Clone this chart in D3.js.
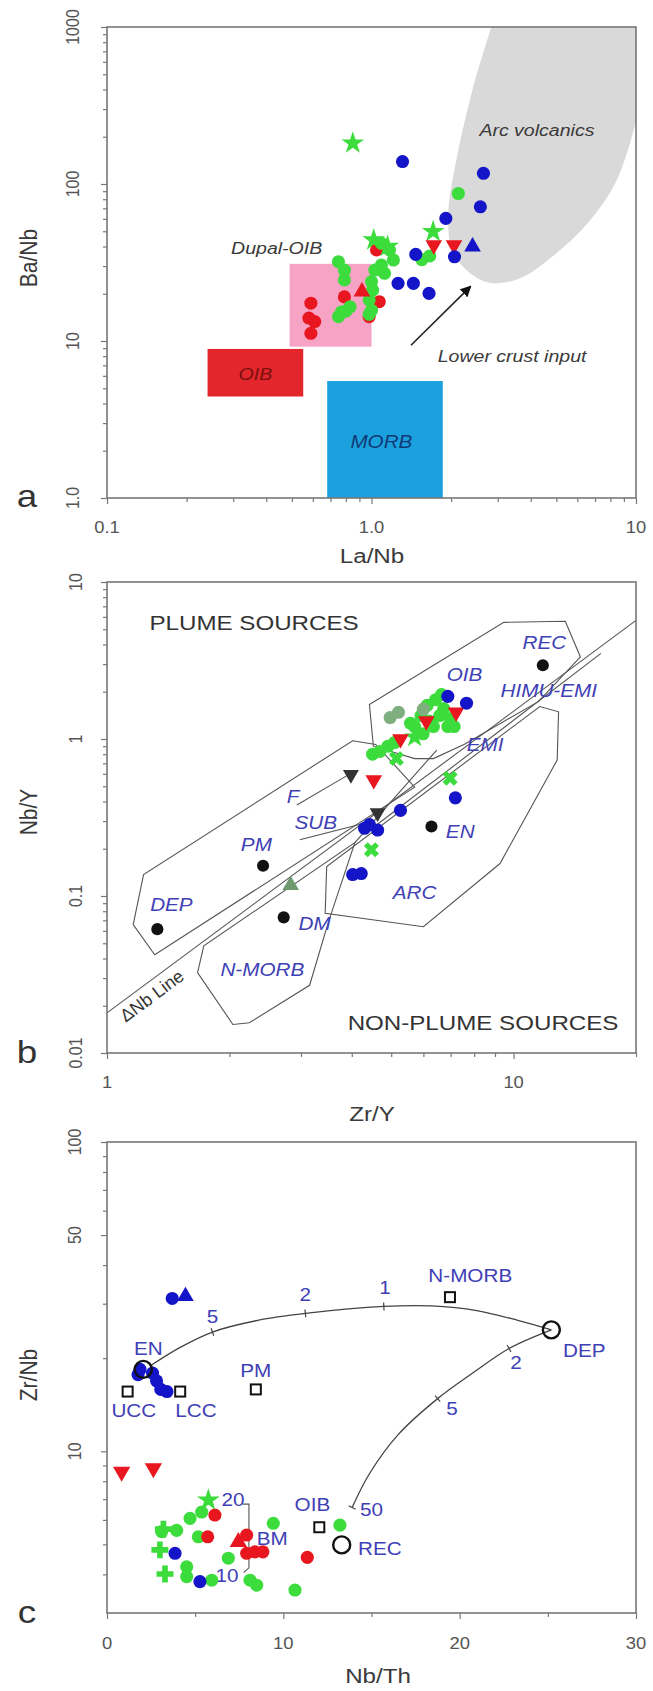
<!DOCTYPE html>
<html><head><meta charset="utf-8">
<script src="https://cdn.jsdelivr.net/npm/d3@7"></script>
<style>body{margin:0;background:#fff}svg{display:block}text{font-family:Arial,"Liberation Sans",Helvetica,sans-serif}</style>
</head><body>
<script>
// ---------------- DATA ----------------
// Panel a : La/Nb (x) vs Ba/Nb (y)
const aArcField = [[2.84,1000],[2.41,399],[2.09,140],[1.95,63.7],[2.02,37.7],[2.33,27.5],[2.79,23.5],[3.59,24.8],[4.78,34],[6.61,57],[8.51,108],[10,250]];
const aDupalBox = [0.49,1.0,9.2,31];
const aOIBBox = [0.24,0.552,4.43,8.9];
const aMORBBox = [0.68,1.86,1,5.56];
const aArrow = [[1.41,9.4],[2.37,22.3]];
const aBlueCircles = [[1.31,139],[2.65,117],[2.58,71.6],[1.91,60.4],[1.47,35.6],[2.06,34.4],[1.26,23.3],[1.44,23.3],[1.65,20.1]];
const aBlueTriUp = [[2.41,39.9]];
const aRedCircles = [[0.59,17.4],[0.58,14],[0.61,13.3],[0.59,11.2],[0.79,19.1],[1.045,38],[1.07,17.8],[0.98,14.3]];
const aRedTriUp = [[0.92,20.6]];
const aRedTriDown = [[2.05,40.8],[1.72,40.8]];
const aGreenCircles = [[2.13,87],[1.66,34.8],[0.75,32],[0.79,28.3],[0.79,24.5],[0.83,16.5],[0.75,14.3],[0.77,15.3],[1.09,41.9],[1.17,38],[1.21,32.8],[1.09,30.5],[1.03,28.3],[1.12,27],[1.0,23.9],[1.01,21.1],[0.98,18.3],[1.0,15.7],[0.98,14.8],[0.8,15.5],[1.55,33]];
const aGreenStars = [[0.85,182],[1.71,49.7],[1.02,44],[1.15,40]];
const aTexts = [["Arc volcanics",4.22,222],["Dupal-OIB",0.438,39.3],["Lower crust input",3.4,8.0]];

// Panel b : Zr/Y (x) vs Nb/Y (y)
const bOIBField = [[4.42,1.66],[9.46,5.53],[13.4,5.62],[14.6,3.33],[11.5,1.73],[7.57,0.925],[6.35,0.75],[5.71,0.75],[4.52,0.90]];
const bLongField = [[1.16,0.0658],[1.23,0.137],[4.02,0.975],[4.58,0.924],[5.71,0.493],[1.31,0.0422]];
const bArcField = [[3.47,0.154],[3.44,0.0776],[6.0,0.0637],[9.26,0.161],[12.8,0.735],[12.9,1.49],[11.6,1.61]];
const bMorbField = [[1.73,0.0481],[1.67,0.0325],[2.04,0.0152],[2.24,0.0156],[3.15,0.027],[3.50,0.0676],[4.07,0.219]];
const bDeltaNbLine = [[1,0.018],[20,5.7]];
const bOtherLines = [[[6.47,0.85],[4.07,0.219]],[[4.32,0.25],[16.4,3.51]]];
const bFArrow = [[2.93,0.38],[3.93,0.593]];
const bSubArrow = [[2.98,0.228],[4.32,0.292]];
const bBlackCircles = [[1.33,0.0615],[2.42,0.156],[2.72,0.0731],[6.28,0.277],[11.8,2.95]];
const bBlueCircles = [[6.89,1.87],[7.66,1.69],[7.19,0.422],[5.27,0.351],[4.42,0.285],[4.63,0.263],[4.02,0.137],[4.22,0.139],[4.3,0.27]];
const bGreenX = [[6.98,0.562],[4.47,0.197],[5.15,0.75]];
const bGreenCircles = [[4.69,0.833],[4.91,0.90],[4.5,0.80],[5.71,1.20],[5.92,1.41],[6.13,1.64],[6.43,1.78],[6.58,1.41],[6.35,1.20],[6.89,1.20],[7.14,1.20],[6.73,1.56],[5.99,1.08],[5.58,1.26],[6.65,1.92],[5.1,0.95],[6.2,1.3],[7.0,1.35]];
const bGreyGreenCircles = [[4.97,1.37],[5.21,1.48],[6.0,1.55]];
const bRedTriDown = [[4.53,0.548],[5.27,1.0],[7.22,1.48],[6.1,1.3]];
const bDarkTriDown = [[3.98,0.593],[4.63,0.339]];
const bGreyTri = [[2.83,0.117]];
const bGreenStars = [[5.71,1.03]];
const bTexts = [["DEP",1.44,0.0877],["PM",2.33,0.214],["DM",3.24,0.0668],["EN",7.39,0.256],["REC",11.9,4.11],["OIB",7.57,2.57],["HIMU-EMI",12.2,2.03],["EMI",8.51,0.925],["ARC",5.71,0.105],["N-MORB",2.41,0.0342],["F",2.87,0.433],["SUB",3.26,0.292]];

// Panel c : Nb/Th (x) vs Zr/Nb (y)
const cUpperCurve = [[2.46,18.9],[4.1,21.6],[5.98,24.3],[8.55,26.5],[11.25,27.9],[15.7,29.4],[18.4,29.5],[20.97,28.5],[23.3,26.5],[25.2,24.7]];
const cLowerCurve = [[25.2,24.7],[22.8,21.5],[20.74,17.9],[18.75,14.8],[16.5,11.3],[14.9,8.49],[13.9,6.58]];
const cCurveTicks = [[5.98,24.3],[11.25,27.9],[15.7,29.4],[22.8,21.5],[18.75,14.8],[13.9,6.58]];
const cTickTexts = [["5",5.98,27.2],["2",11.25,32.1],["1",15.77,33.8],["2",23.2,19.4],["5",19.57,13.8],["50",15.0,6.49],["20",7.15,6.97],["10",6.8,3.98]];
const cBracket = [[7.7,6.75],[8.05,6.75],[8.05,4.2],[7.75,4.05]];
const cSquares = [[19.45,31.5],[8.44,15.85],[1.17,15.6],[4.15,15.6],[12.04,5.68]];
const cOpenCircles = [[25.2,24.7],[2.06,18.4],[13.31,4.98]];
const cBlueCircles = [[3.70,31.2],[1.87,18.4],[2.58,17.9],[2.81,16.9],[3.05,15.85],[3.40,15.6],[1.76,17.7],[3.86,4.68],[5.27,3.79]];
const cBlueTriUp = [[4.45,31.7]];
const cRedTriDown = [[0.83,8.59],[2.63,8.81]];
const cRedCircles = [[6.12,6.22],[5.71,5.29],[7.92,5.36],[8.39,4.73],[7.92,4.68],[8.84,4.73],[11.36,4.54]];
const cRedTriUp = [[7.45,5.09]];
const cGreenCircles = [[5.37,6.36],[4.71,6.07],[3.10,5.50],[3.95,5.55],[5.18,5.29],[4.52,4.23],[6.88,4.51],[4.52,3.93],[5.94,3.83],[9.43,5.85],[8.11,3.83],[8.49,3.69],[10.66,3.56],[13.21,5.77]];
const cGreenStars = [[5.75,6.95]];
const cGreenPlus = [[3.0,4.80],[3.29,4.01],[3.2,5.6]];
const cTexts = [["N-MORB",20.6,37.0],["DEP",27.07,21.1],["EN",2.34,21.5],["PM",8.44,18.2],["UCC",1.52,13.5],["LCC",5.04,13.5],["OIB",11.65,6.74],["REC",15.47,4.84],["BM",9.37,5.22]];

// ---------------- DRAWING ----------------
const W=653,H=1691,SX=1.15;
const RED="#e8161e",GREEN="#3cdc3c",BLUE="#1414c8",LBL="#4040b6";
const PS=135;
const svg=d3.select("body").append("svg").attr("width",W).attr("height",H);

function label(g,x,y,str,o={}){
  const t=g.append("text")
    .attr("transform",`translate(${x},${y}) scale(${o.sx??SX},1)`+(o.rot!=null?` rotate(${o.rot})`:""))
    .attr("text-anchor",o.anchor||"middle").attr("dominant-baseline","central")
    .attr("font-size",o.size||18).attr("fill",o.fill||"#333").text(str);
  if(o.italic) t.attr("font-style","italic");
  if(o.weight) t.attr("font-weight",o.weight);
  return t;
}
const symT={circle:d3.symbolCircle,up:d3.symbolTriangle,down:d3.symbolTriangle,star:d3.symbolStar,x:d3.symbolCross,plus:d3.symbolCross,square:d3.symbolSquare};
function pts(g,x,y,data,type,fill,size){
  const s=d3.symbol().type(symT[type]).size(size);
  g.selectAll(null).data(data).join("path").attr("d",s)
   .attr("transform",d=>`translate(${x(d[0])},${y(d[1])})`+(type==="down"?" rotate(180)":type==="x"?" rotate(45)":""))
   .attr("fill",fill);
}
function frameAxes(g,x,y,xmaj,xmin,ymaj,ymin){
  const [y0]=y.range(), x0=x.range()[0];
  const ax=(gen,vals,size,tr)=>{const a=g.append("g").attr("transform",tr).call(gen.tickValues(vals).tickSize(size).tickFormat(""));
    a.select(".domain").remove(); a.selectAll("line").attr("stroke","#777").attr("stroke-width",1.2);};
  ax(d3.axisBottom(x),xmaj,6,`translate(0,${y0})`);
  ax(d3.axisBottom(x),xmin,4,`translate(0,${y0})`);
  ax(d3.axisLeft(y),ymaj,6,`translate(${x0},0)`);
  ax(d3.axisLeft(y),ymin,4,`translate(${x0},0)`);
}
function frame(g,x,y){
  const [xa,xb]=x.range(),[ya,yb]=y.range();
  g.append("rect").attr("x",xa).attr("y",yb).attr("width",xb-xa).attr("height",ya-yb)
   .attr("fill","none").attr("stroke","#777").attr("stroke-width",1.6);
}
const logMinor=(decs)=>decs.flatMap(d=>[2,3,4,5,6,7,8,9].map(k=>k*d));

// ===== Panel a =====
{
const g=svg.append("g");
const x=d3.scaleLog().domain([0.1,10]).range([107,636]);
const y=d3.scaleLog().domain([1,1000]).range([498,27]);
const ln=d3.line().x(d=>x(d[0])).y(d=>y(d[1])).curve(d3.curveCatmullRom);
g.append("path").attr("d",ln(aArcField)+`L${x(10)},${y(1000)}Z`).attr("fill","#d9d9d9");
const box=(b,fill)=>g.append("rect").attr("x",x(b[0])).attr("y",y(b[3])).attr("width",x(b[1])-x(b[0])).attr("height",y(b[2])-y(b[3])).attr("fill",fill);
box(aDupalBox,"#f6a3c6");
box(aOIBBox,"#e2262b");
box(aMORBBox,"#1ba2de");
label(g,x(Math.sqrt(aOIBBox[0]*aOIBBox[1])),y(6.17),"OIB",{italic:1,fill:"#7a1010",size:17});
label(g,x(1.09),y(2.28),"MORB",{italic:1,fill:"#123a78",size:18});
aTexts.forEach(t=>label(g,x(t[1]),y(t[2]),t[0],{italic:1,fill:"#3a3a3a",size:17}));
svg.append("defs").append("marker").attr("id","ah").attr("viewBox","0 0 10 10").attr("refX",9).attr("refY",5)
  .attr("markerWidth",7).attr("markerHeight",7).attr("orient","auto")
  .append("path").attr("d","M0,0L10,5L0,10Z").attr("fill","#111");
g.append("line").attr("x1",x(aArrow[0][0])).attr("y1",y(aArrow[0][1])).attr("x2",x(aArrow[1][0])).attr("y2",y(aArrow[1][1]))
 .attr("stroke","#222").attr("stroke-width",1.6).attr("marker-end","url(#ah)");
pts(g,x,y,aRedCircles,"circle",RED,PS);
pts(g,x,y,aGreenCircles,"circle",GREEN,PS);
pts(g,x,y,aRedTriUp,"up",RED,120);
pts(g,x,y,aGreenStars,"star",GREEN,160);
pts(g,x,y,aRedTriDown,"down",RED,120);
pts(g,x,y,aBlueCircles,"circle",BLUE,PS);
pts(g,x,y,aBlueTriUp,"up",BLUE,120);
frameAxes(g,x,y,[0.1,1,10],logMinor([0.1,1]),[1,10,100,1000],logMinor([1,10,100]));
frame(g,x,y);
[[0.1,"0.1"],[1,"1.0"],[10,"10"]].forEach(d=>label(g,x(d[0]),527,d[1],{size:16,fill:"#555"}));
[[1,"1.0"],[10,"10"],[100,"100"],[1000,"1000"]].forEach(d=>label(g,73,y(d[0]),d[1],{size:16,fill:"#555",rot:-90}));
label(g,372,556,"La/Nb",{size:21,fill:"#3a3a3a"});
label(g,29,258,"Ba/Nb",{size:21,fill:"#3a3a3a",rot:-90});
label(g,27,496,"a",{size:32,fill:"#333"});
}

// ===== Panel b =====
{
const g=svg.append("g");
const x=d3.scaleLog().domain([1,20]).range([107,636]);
const y=d3.scaleLog().domain([0.01,10]).range([1053,582]);
const ln=d3.line().x(d=>x(d[0])).y(d=>y(d[1]));
const poly=(p)=>g.append("path").attr("d",ln(p)+"Z").attr("fill","none").attr("stroke","#555").attr("stroke-width",1.1);
const line=(p)=>g.append("path").attr("d",ln(p)).attr("fill","none").attr("stroke","#555").attr("stroke-width",1.1);
poly(bLongField);poly(bOIBField);poly(bArcField);poly(bMorbField);
line(bDeltaNbLine);bOtherLines.forEach(line);
line(bFArrow);line(bSubArrow);
label(g,x(2.30),y(5.48),"PLUME SOURCES",{size:21,fill:"#333"});
label(g,x(8.41),y(0.0156),"NON-PLUME SOURCES",{size:21,fill:"#333"});
bTexts.forEach(t=>label(g,x(t[1]),y(t[2]),t[0],{italic:1,fill:LBL,size:18}));
const ang=Math.atan2(y(bDeltaNbLine[1][1])-y(bDeltaNbLine[0][1]),x(bDeltaNbLine[1][0])-x(bDeltaNbLine[0][0]))*180/Math.PI;
label(g,x(1.29),y(0.0231),"ΔNb Line",{size:18,fill:"#333",rot:ang,sx:1});
pts(g,x,y,bBlackCircles,"circle","#111",115);
pts(g,x,y,bGreenCircles,"circle",GREEN,PS);
pts(g,x,y,bGreyGreenCircles,"circle","#7fae7f",PS);
pts(g,x,y,bGreenStars,"star",GREEN,150);
pts(g,x,y,bRedTriDown,"down",RED,120);
pts(g,x,y,bDarkTriDown,"down","#333",110);
pts(g,x,y,bGreyTri,"up","#6f9a6f",120);
pts(g,x,y,bBlueCircles,"circle",BLUE,PS);
pts(g,x,y,bGreenX,"x",GREEN,140);
frameAxes(g,x,y,[1,10],[2,3,4,5,6,7,8,9,20],[0.01,0.1,1,10],logMinor([0.01,0.1,1]));
frame(g,x,y);
[[1,"1"],[10,"10"]].forEach(d=>label(g,x(d[0]),1082,d[1],{size:16,fill:"#555"}));
[[0.01,"0.01"],[0.1,"0.1"],[1,"1"],[10,"10"]].forEach(d=>label(g,76,y(d[0]),d[1],{size:16,fill:"#555",rot:-90}));
label(g,372,1114,"Zr/Y",{size:21,fill:"#3a3a3a"});
label(g,29,812,"Nb/Y",{size:21,fill:"#3a3a3a",rot:-90});
label(g,27,1052,"b",{size:32,fill:"#333"});
}

// ===== Panel c =====
{
const g=svg.append("g");
const x=d3.scaleLinear().domain([0,30]).range([107,636]);
const y=d3.scaleLog().domain([3,100]).range([1613,1142]);
const ln=d3.line().x(d=>x(d[0])).y(d=>y(d[1])).curve(d3.curveCatmullRom);
g.append("path").attr("d",ln(cUpperCurve)).attr("fill","none").attr("stroke","#444").attr("stroke-width",1.3);
g.append("path").attr("d",ln(cLowerCurve)).attr("fill","none").attr("stroke","#444").attr("stroke-width",1.3);
const all=cUpperCurve.concat(cLowerCurve);
cCurveTicks.forEach(t=>{
  const i=all.findIndex(p=>p[0]===t[0]&&p[1]===t[1]);
  const a=all[Math.max(0,i-1)],b=all[Math.min(all.length-1,i+1)];
  const dx=x(b[0])-x(a[0]),dy=y(b[1])-y(a[1]),L=Math.hypot(dx,dy);
  const nx=-dy/L*4,ny=dx/L*4,px=x(t[0]),py=y(t[1]);
  g.append("line").attr("x1",px-nx).attr("y1",py-ny).attr("x2",px+nx).attr("y2",py+ny).attr("stroke","#444").attr("stroke-width",1.2);
});
g.append("path").attr("d",d3.line().x(d=>x(d[0])).y(d=>y(d[1]))(cBracket)).attr("fill","none").attr("stroke","#555").attr("stroke-width",1.1);
cTickTexts.forEach(t=>label(g,x(t[1]),y(t[2]),t[0],{fill:LBL,size:18}));
pts(g,x,y,cGreenCircles,"circle",GREEN,PS);
pts(g,x,y,cRedCircles,"circle",RED,PS);
pts(g,x,y,cRedTriUp,"up",RED,130);
pts(g,x,y,cGreenStars,"star",GREEN,160);
pts(g,x,y,cGreenPlus,"plus",GREEN,160);
pts(g,x,y,cRedTriDown,"down",RED,130);
pts(g,x,y,cBlueCircles,"circle",BLUE,PS);
pts(g,x,y,cBlueTriUp,"up",BLUE,120);
g.selectAll(null).data(cSquares).join("rect").attr("x",d=>x(d[0])-5).attr("y",d=>y(d[1])-5).attr("width",10).attr("height",10)
 .attr("fill","#fff").attr("stroke","#111").attr("stroke-width",2);
g.selectAll(null).data(cOpenCircles).join("circle").attr("cx",d=>x(d[0])).attr("cy",d=>y(d[1])).attr("r",8.5)
 .attr("fill","none").attr("stroke","#111").attr("stroke-width",2.4);
cTexts.forEach(t=>label(g,x(t[1]),y(t[2]),t[0],{fill:LBL,size:18}));
frameAxes(g,x,y,[0,10,20,30],[5,15,25],[10,50,100],[4,5,6,7,8,9,20,30,40,60,70,80,90]);
frame(g,x,y);
[[0,"0"],[10,"10"],[20,"20"],[30,"30"]].forEach(d=>label(g,x(d[0]),1643,d[1],{size:16,fill:"#555"}));
[[10,"10"],[50,"50"],[100,"100"]].forEach(d=>label(g,75,y(d[0]),d[1],{size:16,fill:"#555",rot:-90}));
label(g,378,1676,"Nb/Th",{size:21,fill:"#3a3a3a"});
label(g,29,1375,"Zr/Nb",{size:21,fill:"#3a3a3a",rot:-90});
label(g,27,1612,"c",{size:32,fill:"#333"});
}
</script></body></html>
